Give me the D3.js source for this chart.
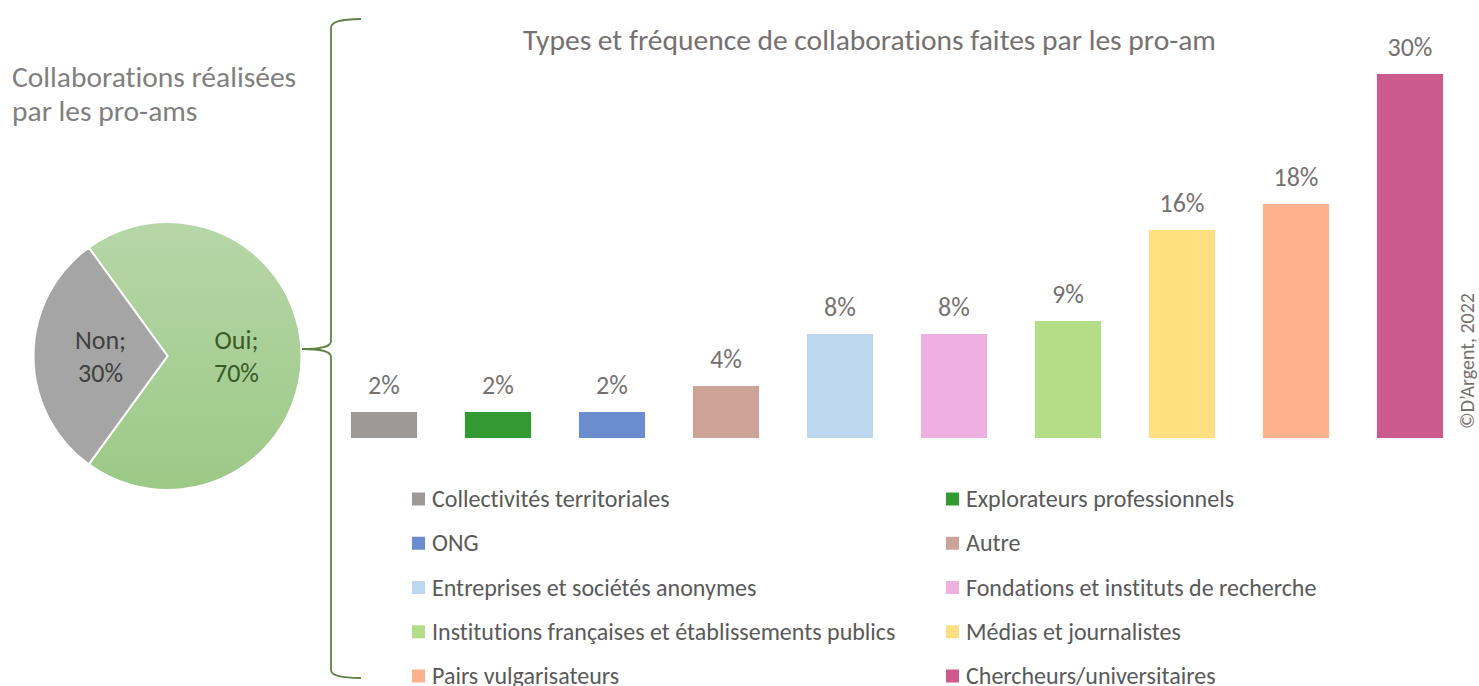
<!DOCTYPE html>
<html lang="fr"><head><meta charset="utf-8">
<script src="https://cdn.jsdelivr.net/npm/d3@7"></script>
<style>
  body { margin: 0; background: #fff; }
  svg {
    display: block;
    font-family: Carlito, Calibri, "Liberation Sans", sans-serif;
    font-variant-ligatures: none;
    font-feature-settings: "liga" 0, "clig" 0;
  }
</style>
</head>
<body>
<svg id="chart" width="1479" height="686"></svg>
<script>
// Pie: did the pro-ams collaborate?
const pieLabels = ["Oui", "Non"];
const pieValues = [70, 30];
const pieColors = ["url(#ouiGradient)", "#a5a5a5"];
const pieTextColors = ["#3a5a27", "#404040"];

// Bars: types of collaboration (percent of pro-ams)
const categories = [
  "Collectivités territoriales",
  "Explorateurs professionnels",
  "ONG",
  "Autre",
  "Entreprises et sociétés anonymes",
  "Fondations et instituts de recherche",
  "Institutions françaises et établissements publics",
  "Médias et journalistes",
  "Pairs vulgarisateurs",
  "Chercheurs/universitaires"
];
const values = [2, 2, 2, 4, 8, 8, 9, 16, 18, 30];
const barColors = [
  "#9e9896", "#339933", "#6b8dcf", "#cda398", "#bdd7ee",
  "#edb0e0", "#b3de87", "#ffdf80", "#ffb18b", "#cb5b8c"
];

const svg = d3.select("#chart");

// ---------- gradient for the "Oui" slice ----------
const defs = svg.append("defs");
const grad = defs.append("linearGradient")
  .attr("id", "ouiGradient")
  .attr("gradientUnits", "userSpaceOnUse")
  .attr("x1", 0).attr("y1", -134).attr("x2", 0).attr("y2", 134);
grad.append("stop").attr("offset", "0%").attr("stop-color", "#b6d6a8");
grad.append("stop").attr("offset", "100%").attr("stop-color", "#9cc986");

// ---------- pie title ----------
const pieTitle = svg.append("text")
  .attr("x", 12).attr("y", 87)
  .attr("fill", "#7f7f7f")
  .style("font-size", "29.5px");
pieTitle.append("tspan").attr("x", 12).attr("y", 87).text("Collaborations réalisées");
pieTitle.append("tspan").attr("x", 12).attr("y", 121).text("par les pro-ams");

// ---------- pie ----------
const pieR = 134;
const pieG = svg.append("g").attr("transform", "translate(167.5,356)");
const pie = d3.pie().sort(null)
  .startAngle(-0.2 * Math.PI)
  .endAngle(1.8 * Math.PI);
const arcs = pie(pieValues);
const arc = d3.arc().innerRadius(0).outerRadius(pieR);

pieG.selectAll("path.slice")
  .data(arcs)
  .join("path")
  .attr("class", "slice")
  .attr("d", arc)
  .attr("fill", (d, i) => pieColors[i])
  .attr("stroke", "#fff")
  .attr("stroke-width", 2)
  .attr("stroke-linejoin", "round");

pieG.selectAll("text.pielabel")
  .data(arcs)
  .join("text")
  .attr("class", "pielabel")
  .attr("text-anchor", "middle")
  .attr("fill", (d, i) => pieTextColors[i])
  .style("font-size", "26px")
  .each(function (d, i) {
    const [cx, cy] = arc.centroid(d);
    const t = d3.select(this);
    t.append("tspan").attr("x", cx + (i === 0 ? 2 : 0)).attr("y", cy - 7).text(pieLabels[i] + ";");
    t.append("tspan").attr("x", cx + (i === 0 ? 2 : 0)).attr("y", cy + 26).text(pieValues[i] + "%");
  });

// ---------- brace linking the "Oui" slice to the bar chart ----------
svg.append("path")
  .attr("d",
    "M361,19 C342,19.5 331,21 331,28 " +
    "L331,341 C331,347 322,349 302,349 " +
    "C322,349 331,351 331,357 " +
    "L331,670 C331,676 342,677.5 361,678")
  .attr("fill", "none")
  .attr("stroke", "#5f8244")
  .attr("stroke-width", 1.8);

// ---------- bar chart ----------
svg.append("text")
  .attr("x", 869.5).attr("y", 50)
  .attr("text-anchor", "middle")
  .attr("fill", "#767171")
  .style("font-size", "29.5px")
  .text("Types et fréquence de collaborations faites par les pro-am");

const x = d3.scaleBand()
  .domain(categories)
  .range([327, 1467])
  .paddingInner(0.42)
  .paddingOuter(0.21);

// Value axis (hidden) stops at 28 %, taller bars are cut at the plot top
const y = d3.scaleLinear()
  .domain([0, 28])
  .range([438, 74])
  .clamp(true);

const barG = svg.append("g");
barG.selectAll("rect")
  .data(values)
  .join("rect")
  .attr("x", (d, i) => x(categories[i]))
  .attr("y", d => y(d))
  .attr("width", x.bandwidth())
  .attr("height", d => y(0) - y(d))
  .attr("fill", (d, i) => barColors[i]);

barG.selectAll("text")
  .data(values)
  .join("text")
  .attr("x", (d, i) => x(categories[i]) + x.bandwidth() / 2)
  .attr("y", d => y(d) - 18)
  .attr("text-anchor", "middle")
  .attr("fill", "#767171")
  .style("font-size", "26px")
  .text(d => d + "%");

// ---------- legend (two columns, row by row) ----------
const legendX = [412, 946];
const legendY0 = 499;
const legendStep = 44.25;
const legend = svg.append("g")
  .selectAll("g")
  .data(categories)
  .join("g")
  .attr("transform", (d, i) =>
    `translate(${legendX[i % 2]},${legendY0 + Math.floor(i / 2) * legendStep})`);
legend.append("rect")
  .attr("x", 0).attr("y", -6.5)
  .attr("width", 13).attr("height", 13)
  .attr("fill", (d, i) => barColors[i]);
legend.append("text")
  .attr("x", 20).attr("y", 8)
  .attr("fill", "#595959")
  .style("font-size", "24px")
  .text(d => d);

// ---------- credit ----------
svg.append("text")
  .attr("transform", "translate(1474,361) rotate(-90)")
  .attr("text-anchor", "middle")
  .attr("fill", "#767171")
  .style("font-size", "20px")
  .text("©D’Argent, 2022");
</script>
</body></html>
